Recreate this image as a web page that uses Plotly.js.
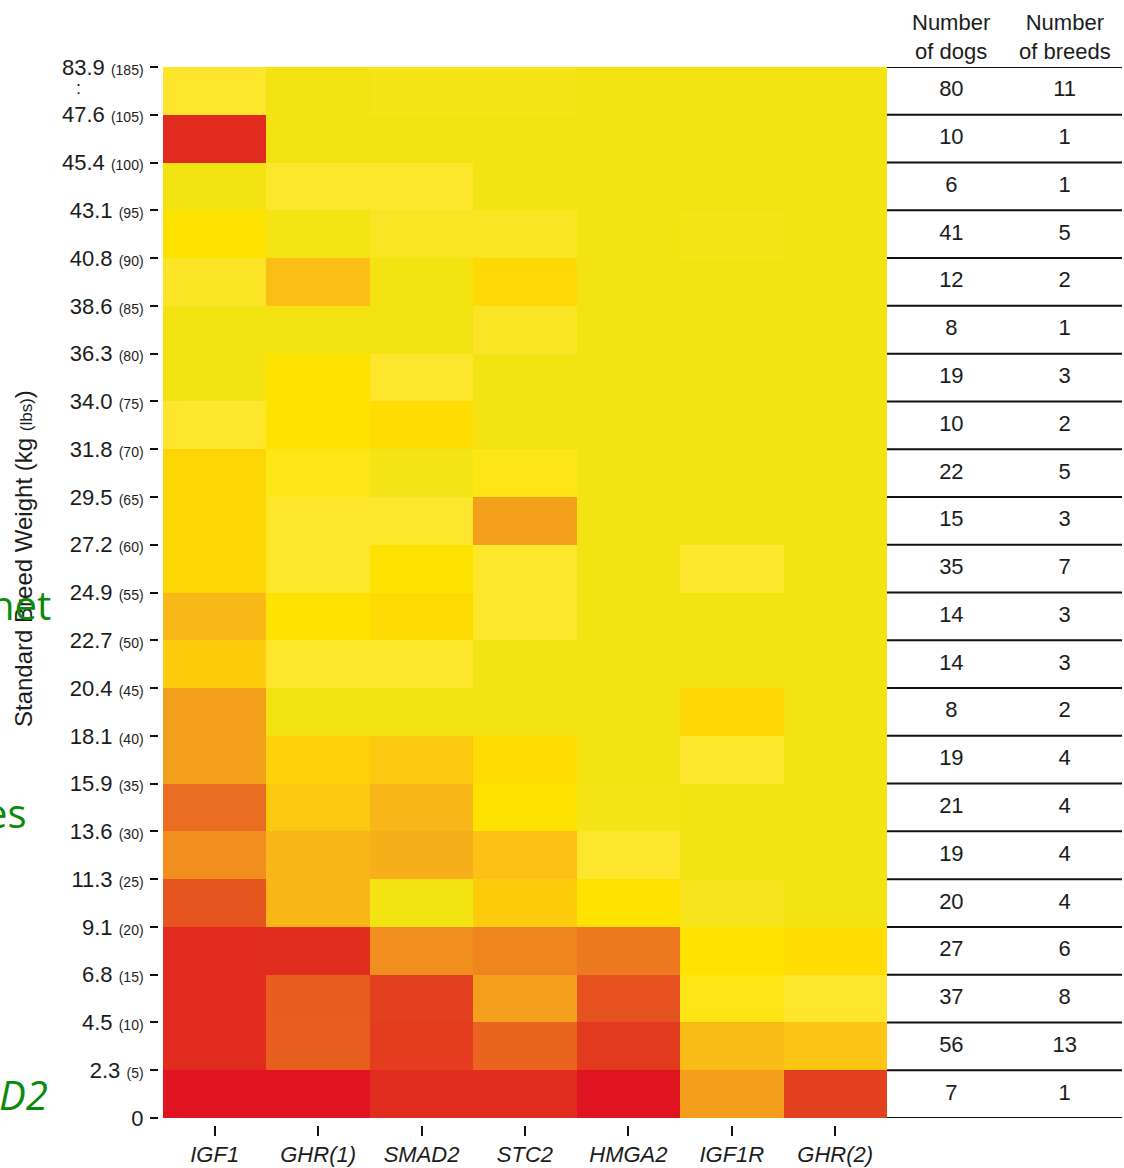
<!DOCTYPE html>
<html>
<head>
<meta charset="utf-8">
<script src="https://cdn.plot.ly/plotly-3.0.1.min.js"></script>
<style>
  html, body { margin: 0; padding: 0; background: #ffffff; }
  #chart { width: 1124px; height: 1168px; }
</style>
</head>
<body>
<div id="chart"></div>
<script>
// Genes (columns of the heatmap)
const genes = ['IGF1', 'GHR(1)', 'SMAD2', 'STC2', 'HMGA2', 'IGF1R', 'GHR(2)'];

// Weight-bin boundaries, top to bottom: kg and (lbs)
const kgBreaks  = ['83.9', '47.6', '45.4', '43.1', '40.8', '38.6', '36.3', '34.0', '31.8', '29.5', '27.2',
                   '24.9', '22.7', '20.4', '18.1', '15.9', '13.6', '11.3', '9.1', '6.8', '4.5', '2.3', '0'];
const lbsBreaks = ['185', '105', '100', '95', '90', '85', '80', '75', '70', '65', '60',
                   '55', '50', '45', '40', '35', '30', '25', '20', '15', '10', '5', ''];

// Association level per weight bin (rows, heaviest first) and gene;
// low = strongest (red), high = none (yellow)
const rowLevels = [
  [11,   12,   11.8, 11.8, 12,   12,   12  ],
  [1,    12,   12,   12,   12,   12,   12  ],
  [12,   11,   11,   12,   12,   12,   12  ],
  [10,   11.9, 11.3, 11.3, 12,   11.8, 12  ],
  [11.2, 7.5,  12,   9.2,  12,   12,   12  ],
  [12,   12,   12,   11.2, 12,   12,   12  ],
  [12,   10,   11,   12,   12,   12,   12  ],
  [11,   10,   9.5,  12,   12,   12,   12  ],
  [9,    10.5, 11.8, 10.5, 12,   12,   12  ],
  [9,    11,   11,   6,    12,   12,   12  ],
  [9,    11,   10,   11,   12,   11,   12  ],
  [7.2,  10,   9.3,  11,   12,   12,   12  ],
  [8.4,  11,   11,   12,   12,   12,   12  ],
  [6,    12,   12,   12,   12,   9,    12  ],
  [6,    8.7,  8.1,  9.5,  12,   11,   12  ],
  [3.8,  8.1,  7.1,  10,   11.8, 12,   12  ],
  [5.1,  7.1,  6.7,  7.7,  11,   12,   12  ],
  [2.7,  7.1,  12,   8.4,  10,   11.6, 12  ],
  [1,    1.1,  5.1,  4.8,  4.3,  10,   9.5 ],
  [1,    3,    2,    6,    2.6,  10.5, 11  ],
  [1,    3.1,  1.8,  3.4,  1.7,  7.4,  7.9 ],
  [0,    0,    1.1,  1.1,  0,    5.9,  2   ]
];

// Sample sizes per weight bin (heaviest first)
const nDogs   = [80, 10, 6, 41, 12, 8, 19, 10, 22, 15, 35, 14, 14, 8, 19, 21, 19, 20, 27, 37, 56, 7];
const nBreeds = [11, 1, 1, 5, 2, 1, 3, 2, 5, 3, 7, 3, 3, 2, 4, 4, 4, 4, 6, 8, 13, 1];

// ---- derived values ----
const nRows = rowLevels.length;
const rowCenters = rowLevels.map((_, i) => nRows - 0.5 - i);
const tickVals = kgBreaks.map((_, i) => nRows - i);
const tickText = kgBreaks.map((kg, i) =>
  lbsBreaks[i] ? kg + ' <span style="font-size:14px">(' + lbsBreaks[i] + ')</span>' : kg);
const geneLabels = genes.map(g => '<i>' + g + '</i>');

const FONT = 'Liberation Sans, Arial, Helvetica, sans-serif';
const INK = '#1c1c1c';

const colorscale = [
  [0 / 12,  '#df1420'],
  [1 / 12,  '#e12b1e'],
  [2 / 12,  '#e3401f'],
  [3 / 12,  '#e75c1f'],
  [4 / 12,  '#ea7020'],
  [5 / 12,  '#f08c1e'],
  [6 / 12,  '#f3a01c'],
  [7 / 12,  '#f7b419'],
  [8 / 12,  '#fcc712'],
  [9 / 12,  '#fed606'],
  [10 / 12, '#ffe300'],
  [11 / 12, '#fde62b'],
  [12 / 12, '#f3e313']
];

const heat = {
  type: 'heatmap',
  x: genes,
  y: rowCenters,
  z: rowLevels,
  zmin: 0,
  zmax: 12,
  zsmooth: false,
  colorscale: colorscale,
  showscale: false,
  xaxis: 'x',
  yaxis: 'y',
  hoverinfo: 'skip'
};

const dogsText = {
  type: 'scatter',
  mode: 'text',
  x: nDogs.map(() => 0.274),
  y: rowCenters,
  text: nDogs.map(String),
  textfont: { family: FONT, size: 22, color: INK },
  textposition: 'middle center',
  xaxis: 'x2',
  yaxis: 'y',
  showlegend: false,
  hoverinfo: 'skip'
};

const breedsText = {
  type: 'scatter',
  mode: 'text',
  x: nBreeds.map(() => 0.756),
  y: rowCenters,
  text: nBreeds.map(String),
  textfont: { family: FONT, size: 22, color: INK },
  textposition: 'middle center',
  xaxis: 'x2',
  yaxis: 'y',
  showlegend: false,
  hoverinfo: 'skip'
};

// Table rules at each bin boundary
const shapes = [];
for (let k = 0; k <= nRows; k++) {
  shapes.push({
    type: 'line', xref: 'paper', yref: 'y',
    x0: 0.7562, x1: 1.0, y0: k, y1: k,
    line: { color: '#111111', width: 2 }
  });
}

const annotations = [
  { text: 'Number<br>of dogs', xref: 'x2', yref: 'paper', x: 0.274, y: 1.0284,
    xanchor: 'center', yanchor: 'middle', showarrow: false,
    font: { family: FONT, size: 22, color: INK } },
  { text: 'Number<br>of breeds', xref: 'x2', yref: 'paper', x: 0.756, y: 1.0284,
    xanchor: 'center', yanchor: 'middle', showarrow: false,
    font: { family: FONT, size: 22, color: INK } },
  // axis break marker between the top two boundaries
  { text: ':', xref: 'paper', yref: 'paper', x: (78 - 158) / 964, y: (1125 - 88) / 1058,
    xanchor: 'center', yanchor: 'middle', showarrow: false,
    font: { family: FONT, size: 18, color: INK } },
  // y-axis title
  { text: 'Standard Breed Weight (kg <span style="font-size:17px">(lbs)</span>)',
    xref: 'paper', yref: 'paper', x: (23 - 158) / 964, y: (1125 - 559) / 1058,
    xanchor: 'center', yanchor: 'middle', textangle: -90, showarrow: false,
    font: { family: FONT, size: 24, color: INK } },
  // slide text fragments at the left edge
  { text: 'net', xref: 'paper', yref: 'paper', x: (53 - 158) / 964, y: (1125 - 604) / 1058,
    xanchor: 'right', yanchor: 'middle', showarrow: false,
    font: { family: 'Open Sans, sans-serif', size: 40, color: '#0a8a0a' } },
  { text: 'es', xref: 'paper', yref: 'paper', x: (29 - 158) / 964, y: (1125 - 812) / 1058,
    xanchor: 'right', yanchor: 'middle', showarrow: false,
    font: { family: 'Open Sans, sans-serif', size: 40, color: '#0a8a0a' } },
  { text: '<i>D2</i>', xref: 'paper', yref: 'paper', x: (50 - 158) / 964, y: (1125 - 1094) / 1058,
    xanchor: 'right', yanchor: 'middle', showarrow: false,
    font: { family: 'Open Sans, sans-serif', size: 40, color: '#0a8a0a' } }
];

const layout = {
  width: 1124,
  height: 1168,
  margin: { l: 158, r: 2, t: 67, b: 43 },
  paper_bgcolor: '#ffffff',
  plot_bgcolor: '#ffffff',
  showlegend: false,
  font: { family: FONT, color: INK },
  xaxis: {
    domain: [5 / 964, 0.7562],
    anchor: 'free',
    position: 0,
    type: 'category',
    tickvals: genes,
    ticktext: geneLabels,
    ticks: 'outside',
    ticklen: 10,
    tickwidth: 2,
    tickcolor: '#111111',
    tickfont: { family: FONT, size: 22, color: INK },
    showline: false,
    showgrid: false,
    zeroline: false,
    fixedrange: true
  },
  xaxis2: {
    domain: [0.7562, 1.0],
    anchor: 'y',
    range: [0, 1],
    visible: false,
    fixedrange: true
  },
  yaxis: {
    domain: [7 / 1058, 1],
    anchor: 'free',
    position: 0,
    range: [0, nRows],
    tickmode: 'array',
    tickvals: tickVals,
    ticktext: tickText,
    ticks: 'outside',
    ticklen: 8,
    tickwidth: 2,
    tickcolor: '#111111',
    tickfont: { family: FONT, size: 22, color: INK },
    ticklabelstandoff: 2,
    showline: false,
    showgrid: false,
    zeroline: false,
    fixedrange: true
  },
  shapes: shapes,
  annotations: annotations
};

Plotly.newPlot('chart', [heat, dogsText, breedsText], layout, { displayModeBar: false, staticPlot: true });
</script>
</body>
</html>
